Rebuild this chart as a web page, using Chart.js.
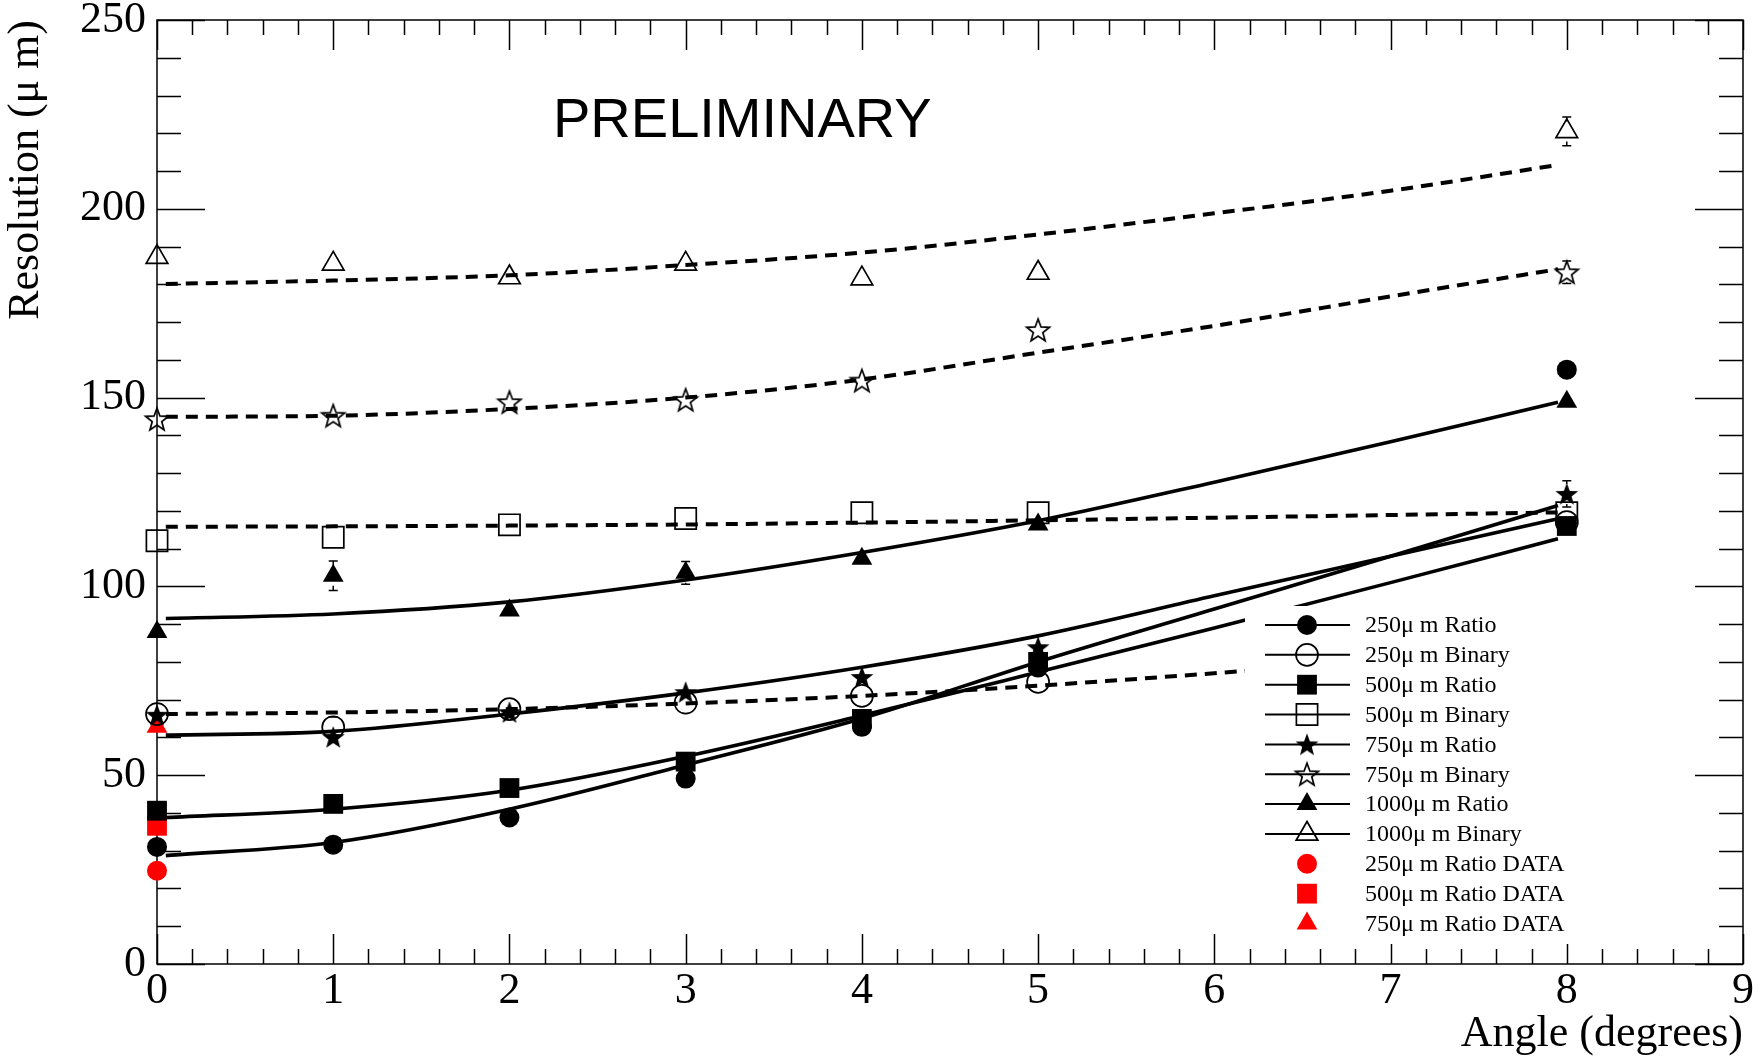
<!DOCTYPE html>
<html>
<head>
<meta charset="utf-8">
<script src="https://cdn.jsdelivr.net/npm/chart.js@4.4.1/dist/chart.umd.min.js"></script>
<style>
html,body{margin:0;padding:0;background:#fff;}
canvas{display:block;}
</style>
</head>
<body>
<canvas id="c" width="1763" height="1061"></canvas>
<script>
// ---------- DATA ----------
const angles = [0, 1, 2, 3, 4, 5, 8];

const ratio250    = [31.0, 31.6, 38.8, 49.1, 62.8, 78.5, 157.4];
const binary250   = [66.2, 62.7, 67.5, 69.2, 71.0, 74.7, 117.0];
const ratio500    = [40.6, 42.4, 46.6, 53.6, 64.9, 80.0, 116.0];
const binary500   = [112.1, 113.0, 116.3, 118.0, 119.5, 119.5, 119.5];
const ratio750    = [66.0, 60.1, 66.7, 72.0, 76.0, 83.9, 124.5];
const binary750   = [144.3, 145.2, 148.8, 149.4, 154.5, 167.9, 183.2];
const ratio1000   = [87.9, 102.8, 93.6, 103.6, 107.3, 116.4, 148.9];
const binary1000  = [187.2, 185.4, 181.8, 185.4, 181.5, 183.0, 220.5];

const errRatio250   = [1.5, 1.5, 1.5, 1.5, 1.5, 1.5, 1.5];
const errBinary250  = [1.5, 2.7, 1.5, 1.5, 1.5, 2.0, 2.0];
const errRatio500   = [1.5, 1.5, 1.5, 1.5, 1.5, 1.5, 1.5];
const errBinary500  = [1.5, 1.5, 1.5, 1.5, 1.5, 1.5, 1.5];
const errRatio750   = [2.0, 2.6, 2.0, 2.5, 2.5, 3.0, 3.5];
const errBinary750  = [1.5, 2.5, 1.5, 2.0, 2.0, 2.0, 3.0];
const errRatio1000  = [1.5, 3.9, 1.5, 3.0, 2.5, 2.0, 2.0];
const errBinary1000 = [2.0, 2.0, 2.0, 2.0, 2.0, 2.0, 3.8];

const dataAngles = [0];
const dataRatio250 = [24.7];
const dataRatio500 = [36.6];
const dataRatio750 = [62.8];

// fitted curves, read at these angles
const fitAngles     = [0.05, 1, 2, 3, 4, 5, 6, 7, 7.95];
const fitRatio250   = [28.7, 32.2, 41.0, 52.7, 65.0, 80.0, 94.0, 108.0, 121.4];
const fitRatio500   = [38.8, 41.0, 46.0, 55.0, 65.8, 77.3, 89.0, 101.0, 112.6];
const fitRatio750   = [60.6, 61.6, 66.2, 71.8, 78.6, 86.9, 97.5, 108.0, 117.9];
const fitRatio1000  = [91.5, 92.7, 95.9, 101.7, 109.0, 117.4, 127.6, 138.3, 148.8];
const fitBinary250  = [66.2, 66.6, 67.5, 69.0, 71.0, 73.7, 77.0, 80.5, 84.0];
const fitBinary500  = [115.8, 115.9, 116.1, 116.4, 116.9, 117.5, 118.2, 118.9, 119.6];
const fitBinary750  = [144.9, 145.2, 147.0, 150.0, 154.8, 161.9, 169.0, 176.8, 184.0];
const fitBinary1000 = [180.1, 181.0, 182.4, 185.1, 188.4, 193.2, 198.8, 204.8, 211.6];

const legendLabels = [
  '250\u03bc m Ratio', '250\u03bc m Binary', '500\u03bc m Ratio', '500\u03bc m Binary',
  '750\u03bc m Ratio', '750\u03bc m Binary', '1000\u03bc m Ratio', '1000\u03bc m Binary',
  '250\u03bc m Ratio DATA', '500\u03bc m Ratio DATA', '750\u03bc m Ratio DATA'
];

const xTitle = 'Angle (degrees)';
const yTitle = 'Resolution (\u03bc m)';
const stamp = 'PRELIMINARY';
const X_MIN = 0, X_MAX = 9, X_MAJOR = 1, X_MINOR_DIV = 5;
const Y_MIN = 0, Y_MAX = 250, Y_MAJOR = 50, Y_MINOR_DIV = 5;

// ---------- STYLE ----------
const SERIF = '"Liberation Serif", "Times New Roman", serif';
const SANS = '"Liberation Sans", Arial, sans-serif';

function makeStar(filled) {
  const c = document.createElement('canvas');
  const S = 28; c.width = S; c.height = S;
  const g = c.getContext('2d');
  const R = 12, r = 5, cx = S / 2, cy = S / 2 + 1;
  g.beginPath();
  for (let k = 0; k < 10; k++) {
    const a = -Math.PI / 2 + k * Math.PI / 5;
    const rad = k % 2 === 0 ? R : r;
    g.lineTo(cx + rad * Math.cos(a), cy + rad * Math.sin(a));
  }
  g.closePath();
  if (filled) { g.fillStyle = '#000'; g.fill(); }
  else { g.lineWidth = 1.7; g.strokeStyle = '#000'; g.stroke(); }
  return c;
}
const starFilled = makeStar(true);
const starOpen = makeStar(false);

function pts(xs, ys) { return xs.map((a, i) => ({x: a, y: ys[i]})); }

function markerDS(label, xs, ys, style, radius, filled, color, errs, legendLine) {
  return {
    label, data: pts(xs, ys), showLine: false,
    pointStyle: style, pointRadius: radius, pointHoverRadius: radius,
    pointBackgroundColor: filled ? color : 'rgba(0,0,0,0)',
    pointBorderColor: color, pointBorderWidth: filled ? 0 : 1.7,
    borderColor: color, backgroundColor: filled ? color : 'rgba(0,0,0,0)',
    clip: false, isMarker: true, errs: errs || null, legendLine: legendLine
  };
}
function fitDS(ys, dashed) {
  return {
    label: '', data: pts(fitAngles, ys), showLine: true, pointRadius: 0, pointHoverRadius: 0,
    borderColor: '#000', borderWidth: dashed ? 4 : 3.6, borderDash: dashed ? [12, 8] : [],
    cubicInterpolationMode: 'monotone', fill: false, isFit: true
  };
}

const RED = '#ff0000';
const markerSets = [
  markerDS(legendLabels[0], angles, ratio250, 'circle', 10, true, '#000', errRatio250, true),
  markerDS(legendLabels[1], angles, binary250, 'circle', 11, false, '#000', errBinary250, true),
  markerDS(legendLabels[2], angles, ratio500, 'rect', 14, true, '#000', errRatio500, true),
  markerDS(legendLabels[3], angles, binary500, 'rect', 15, false, '#000', errBinary500, true),
  markerDS(legendLabels[4], angles, ratio750, starFilled, 11, true, '#000', errRatio750, true),
  markerDS(legendLabels[5], angles, binary750, starOpen, 11, false, '#000', errBinary750, true),
  markerDS(legendLabels[6], angles, ratio1000, 'triangle', 12, true, '#000', errRatio1000, true),
  markerDS(legendLabels[7], angles, binary1000, 'triangle', 12.5, false, '#000', errBinary1000, true),
  markerDS(legendLabels[8], dataAngles, dataRatio250, 'circle', 10, true, RED, null, false),
  markerDS(legendLabels[9], dataAngles, dataRatio500, 'rect', 14, true, RED, null, false),
  markerDS(legendLabels[10], dataAngles, dataRatio750, 'triangle', 12, true, RED, null, false)
];
const fitSets = [
  fitDS(fitRatio250, false), fitDS(fitBinary250, true),
  fitDS(fitRatio500, false), fitDS(fitBinary500, true),
  fitDS(fitRatio750, false), fitDS(fitBinary750, true),
  fitDS(fitRatio1000, false), fitDS(fitBinary1000, true)
];

// ---------- PLUGINS ----------
const framePlugin = {
  id: 'frameTicks',
  beforeDatasetsDraw(chart) {
    const {ctx, chartArea: a, scales: {x, y}} = chart;
    ctx.save();
    ctx.strokeStyle = '#000';
    ctx.lineWidth = 1.5;
    ctx.strokeRect(a.left, a.top, a.right - a.left, a.bottom - a.top);
    ctx.beginPath();
    const nY = (Y_MAX - Y_MIN) / Y_MAJOR * Y_MINOR_DIV;
    for (let k = 0; k <= nY; k++) {
      const v = Y_MIN + k * Y_MAJOR / Y_MINOR_DIV;
      const py = Math.round(y.getPixelForValue(v)) + 0.5;
      const len = k % Y_MINOR_DIV === 0 ? 48 : 24;
      ctx.moveTo(a.left, py); ctx.lineTo(a.left + len, py);
      ctx.moveTo(a.right, py); ctx.lineTo(a.right - len, py);
    }
    const nX = (X_MAX - X_MIN) / X_MAJOR * X_MINOR_DIV;
    for (let k = 0; k <= nX; k++) {
      const v = X_MIN + k * X_MAJOR / X_MINOR_DIV;
      const px = Math.round(x.getPixelForValue(v)) + 0.5;
      const len = k % X_MINOR_DIV === 0 ? 30 : 15;
      ctx.moveTo(px, a.bottom); ctx.lineTo(px, a.bottom - len);
      ctx.moveTo(px, a.top); ctx.lineTo(px, a.top + len);
    }
    ctx.stroke();
    ctx.restore();
  }
};

const errorPlugin = {
  id: 'errorBars',
  afterDatasetsDraw(chart) {
    const {ctx, scales: {x, y}} = chart;
    ctx.save();
    ctx.strokeStyle = '#000';
    ctx.lineWidth = 1.5;
    chart.data.datasets.forEach((ds) => {
      if (!ds.errs) return;
      ds.data.forEach((p, i) => {
        const px = x.getPixelForValue(p.x);
        const py = y.getPixelForValue(p.y);
        const e = y.getPixelForValue(p.y - ds.errs[i]) - py;
        const gap = 10;
        if (e <= gap) return;
        ctx.beginPath();
        ctx.moveTo(px, py - e); ctx.lineTo(px, py - gap);
        ctx.moveTo(px, py + gap); ctx.lineTo(px, py + e);
        ctx.moveTo(px - 4.5, py - e); ctx.lineTo(px + 4.5, py - e);
        ctx.moveTo(px - 4.5, py + e); ctx.lineTo(px + 4.5, py + e);
        ctx.stroke();
      });
    });
    ctx.restore();
  }
};

function drawMarker(ctx, ds, cx, cy) {
  ctx.save();
  ctx.fillStyle = ds.pointBackgroundColor;
  ctx.strokeStyle = ds.pointBorderColor;
  ctx.lineWidth = ds.pointBorderWidth;
  const opts = {pointStyle: ds.pointStyle, radius: ds.pointRadius, borderWidth: ds.pointBorderWidth, rotation: 0};
  if (Chart.helpers && Chart.helpers.drawPoint) {
    Chart.helpers.drawPoint(ctx, opts, cx, cy);
  }
  ctx.restore();
}

const legendPlugin = {
  id: 'rootLegend',
  afterDatasetsDraw(chart) {
    const ctx = chart.ctx;
    const box = {x: 1245, y: 606, w: 335, h: 338};
    ctx.save();
    ctx.fillStyle = '#fff';
    ctx.fillRect(box.x, box.y, box.w, box.h);
    const rowY0 = 625, rowStep = 29.85;
    const lineX0 = 1265, lineX1 = 1350, markX = 1307, textX = 1365;
    ctx.font = '24px ' + SERIF;
    ctx.textBaseline = 'middle';
    ctx.textAlign = 'left';
    const markers = chart.data.datasets.filter(d => d.isMarker);
    markers.forEach((ds, i) => {
      const cy = rowY0 + i * rowStep;
      if (ds.legendLine) {
        ctx.strokeStyle = '#000';
        ctx.lineWidth = 2;
        ctx.beginPath();
        ctx.moveTo(lineX0, cy); ctx.lineTo(lineX1, cy);
        ctx.stroke();
      }
      drawMarker(ctx, ds, markX, cy);
      ctx.fillStyle = '#000';
      ctx.fillText(ds.label, textX, cy + 1);
    });
    // stamp
    ctx.font = '56px ' + SANS;
    ctx.textBaseline = 'alphabetic';
    ctx.fillStyle = '#000';
    ctx.fillText(stamp, 553, 136.5);
    ctx.restore();
  }
};

// ---------- CHART ----------
new Chart(document.getElementById('c'), {
  type: 'line',
  data: {datasets: [...markerSets, ...fitSets]},
  options: {
    responsive: false,
    animation: false,
    events: [],
    devicePixelRatio: 1,
    layout: {padding: {top: 20, right: 20, left: 0, bottom: 0}},
    plugins: {legend: {display: false}, tooltip: {enabled: false}, title: {display: false}},
    scales: {
      x: {
        type: 'linear', min: X_MIN, max: X_MAX,
        grid: {display: false, drawTicks: false},
        border: {display: false},
        ticks: {stepSize: X_MAJOR, autoSkip: false, maxRotation: 0, padding: 10,
                color: '#000', font: {family: SERIF, size: 44, lineHeight: 0.8}},
        title: {display: true, text: xTitle, align: 'end', color: '#000', padding: 0,
                font: {family: SERIF, size: 44, lineHeight: 1.2}},
        afterFit(s) { s.height = 97; s.paddingLeft = 0; s.paddingRight = 0; }
      },
      y: {
        type: 'linear', min: Y_MIN, max: Y_MAX,
        grid: {display: false, drawTicks: false},
        border: {display: false},
        ticks: {stepSize: Y_MAJOR, autoSkip: false, padding: 11,
                color: '#000', font: {family: SERIF, size: 44, lineHeight: 0.8}},
        title: {display: true, text: yTitle, align: 'end', color: '#000', padding: 0,
                font: {family: SERIF, size: 44, lineHeight: 1.2}},
        afterFit(s) { s.width = 157; s.paddingTop = 0; s.paddingBottom = 0; }
      }
    }
  },
  plugins: [framePlugin, errorPlugin, legendPlugin]
});
</script>
</body>
</html>
